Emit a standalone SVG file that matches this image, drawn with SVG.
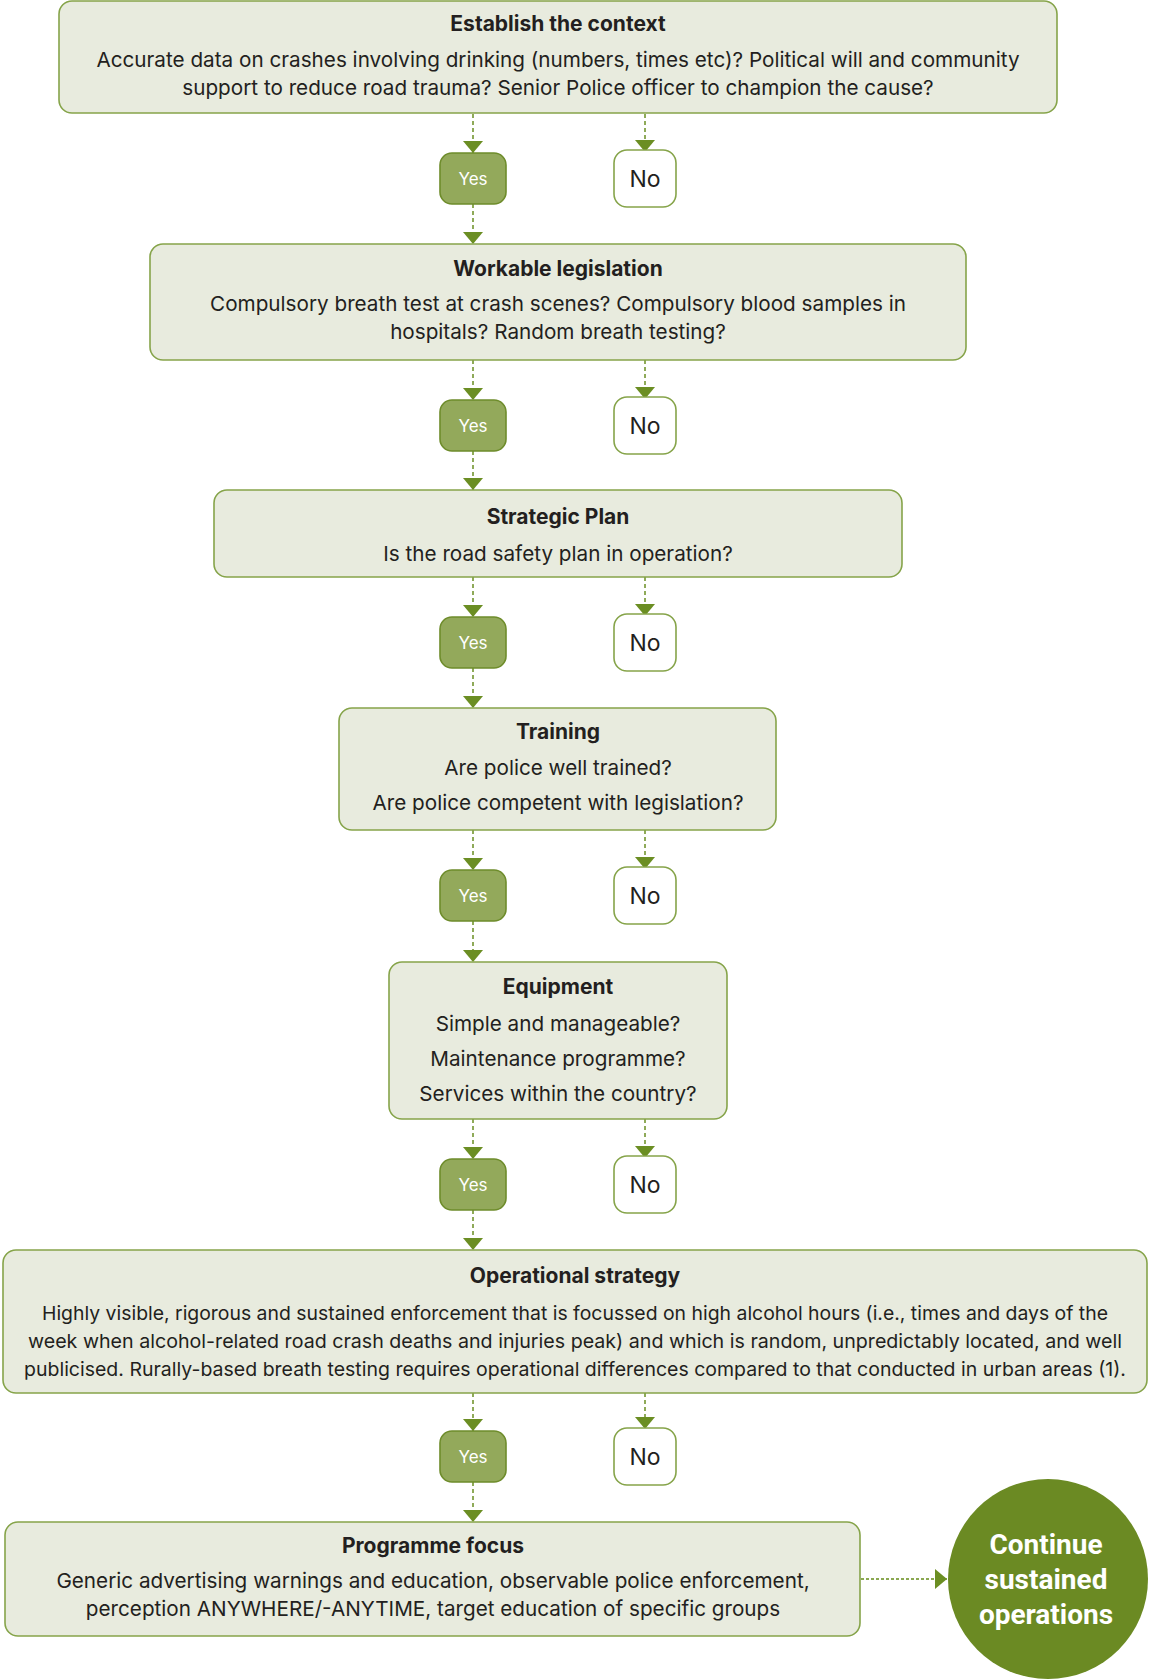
<svg xmlns="http://www.w3.org/2000/svg" width="1149" height="1679" viewBox="0 0 1149 1679">
<defs>
<style>
.box{fill:#E8EBDE;stroke:#86A44A;stroke-width:1.6}
.yes{fill:#93A95B;stroke:#6E8C2B;stroke-width:1.6}
.no{fill:#FFFFFF;stroke:#86A44A;stroke-width:1.6}
.t{font-family:Inter,Roboto,"Liberation Sans",sans-serif;font-size:20.7px;fill:#231F20;text-anchor:middle}
.b{font-weight:bold;font-size:21px}
.s{font-size:19.3px}
.yt{font-family:Inter,Roboto,"Liberation Sans",sans-serif;font-size:17px;fill:#FFFFFF;text-anchor:middle}
.nt{font-family:Inter,Roboto,"Liberation Sans",sans-serif;font-size:23px;fill:#231F20;text-anchor:middle}
.ct{font-family:Roboto,"Liberation Sans",sans-serif;font-size:28px;font-weight:bold;fill:#FFFFFF;text-anchor:middle}
.c{fill:none;stroke:#6B8E23;stroke-width:1.5;stroke-dasharray:4 3}
.d{fill:none;stroke:#8BA852;stroke-width:2;stroke-dasharray:3 2}
</style>
<marker id="ahw" viewBox="0 0 10 10" refX="10" refY="5" markerWidth="12" markerHeight="20" markerUnits="userSpaceOnUse" orient="auto" preserveAspectRatio="none">
<path d="M0,0 L10,5 L0,10 z" fill="#6B8E23"/>
</marker>
</defs>

<g id="connectors">
<path class="c" d="M473,114 V153" marker-end="url(#ahw)"/>
<path class="c" d="M645,114 V152" marker-end="url(#ahw)"/>
<path class="c" d="M473,204 V244" marker-end="url(#ahw)"/>
<path class="c" d="M473,360 V400" marker-end="url(#ahw)"/>
<path class="c" d="M645,360 V399" marker-end="url(#ahw)"/>
<path class="c" d="M473,451 V490" marker-end="url(#ahw)"/>
<path class="c" d="M473,577 V617" marker-end="url(#ahw)"/>
<path class="c" d="M645,577 V616" marker-end="url(#ahw)"/>
<path class="c" d="M473,668 V708" marker-end="url(#ahw)"/>
<path class="c" d="M473,830 V870" marker-end="url(#ahw)"/>
<path class="c" d="M645,830 V869" marker-end="url(#ahw)"/>
<path class="c" d="M473,921 V962" marker-end="url(#ahw)"/>
<path class="c" d="M473,1119 V1159" marker-end="url(#ahw)"/>
<path class="c" d="M645,1119 V1158" marker-end="url(#ahw)"/>
<path class="c" d="M473,1210 V1250" marker-end="url(#ahw)"/>
<path class="c" d="M645,1393 V1429" marker-end="url(#ahw)"/>
<path class="c" d="M473,1393 V1431" marker-end="url(#ahw)"/>
<path class="c" d="M473,1482 V1522" marker-end="url(#ahw)"/>
<path class="d" d="M861,1579 H947" marker-end="url(#ahw)"/>
</g>

<g id="establish-context">
<rect class="box" x="59" y="1" width="998" height="112" rx="13"/>
<text class="t b" x="558" y="31">Establish the context</text>
<text class="t" x="558" y="67">Accurate data on crashes involving drinking (numbers, times etc)? Political will and community</text>
<text class="t" x="558" y="95">support to reduce road trauma? Senior Police officer to champion the cause?</text>
</g>
<g id="yes1"><rect class="yes" x="440" y="153" width="66" height="51" rx="12"/><text class="yt" x="473" y="185">Yes</text></g>
<g id="no1"><rect class="no" x="614" y="150" width="62" height="57" rx="13"/><text class="nt" x="645" y="187">No</text></g>

<g id="workable-legislation">
<rect class="box" x="150" y="244" width="816" height="116" rx="13"/>
<text class="t b" x="558" y="276">Workable legislation</text>
<text class="t" x="558" y="311">Compulsory breath test at crash scenes? Compulsory blood samples in</text>
<text class="t" x="558" y="339">hospitals? Random breath testing?</text>
</g>
<g id="yes2"><rect class="yes" x="440" y="400" width="66" height="51" rx="12"/><text class="yt" x="473" y="432">Yes</text></g>
<g id="no2"><rect class="no" x="614" y="397" width="62" height="57" rx="13"/><text class="nt" x="645" y="434">No</text></g>

<g id="strategic-plan">
<rect class="box" x="214" y="490" width="688" height="87" rx="13"/>
<text class="t b" x="558" y="524">Strategic Plan</text>
<text class="t" x="558" y="561">Is the road safety plan in operation?</text>
</g>
<g id="yes3"><rect class="yes" x="440" y="617" width="66" height="51" rx="12"/><text class="yt" x="473" y="649">Yes</text></g>
<g id="no3"><rect class="no" x="614" y="614" width="62" height="57" rx="13"/><text class="nt" x="645" y="651">No</text></g>

<g id="training">
<rect class="box" x="339" y="708" width="437" height="122" rx="13"/>
<text class="t b" x="558" y="739">Training</text>
<text class="t" x="558" y="775">Are police well trained?</text>
<text class="t" x="558" y="810">Are police competent with legislation?</text>
</g>
<g id="yes4"><rect class="yes" x="440" y="870" width="66" height="51" rx="12"/><text class="yt" x="473" y="902">Yes</text></g>
<g id="no4"><rect class="no" x="614" y="867" width="62" height="57" rx="13"/><text class="nt" x="645" y="904">No</text></g>

<g id="equipment">
<rect class="box" x="389" y="962" width="338" height="157" rx="13"/>
<text class="t b" x="558" y="994">Equipment</text>
<text class="t" x="558" y="1031">Simple and manageable?</text>
<text class="t" x="558" y="1066">Maintenance programme?</text>
<text class="t" x="558" y="1101">Services within the country?</text>
</g>
<g id="yes5"><rect class="yes" x="440" y="1159" width="66" height="51" rx="12"/><text class="yt" x="473" y="1191">Yes</text></g>
<g id="no5"><rect class="no" x="614" y="1156" width="62" height="57" rx="13"/><text class="nt" x="645" y="1193">No</text></g>

<g id="operational-strategy">
<rect class="box" x="3" y="1250" width="1144" height="143" rx="13"/>
<text class="t b" x="575" y="1283">Operational strategy</text>
<text class="t s" x="575" y="1320" textLength="1066" lengthAdjust="spacingAndGlyphs">Highly visible, rigorous and sustained enforcement that is focussed on high alcohol hours (i.e., times and days of the</text>
<text class="t s" x="575" y="1348" textLength="1094" lengthAdjust="spacingAndGlyphs">week when alcohol-related road crash deaths and injuries peak) and which is random, unpredictably located, and well</text>
<text class="t s" x="575" y="1376" textLength="1102" lengthAdjust="spacingAndGlyphs">publicised. Rurally-based breath testing requires operational differences compared to that conducted in urban areas (1).</text>
</g>
<g id="yes6"><rect class="yes" x="440" y="1431" width="66" height="51" rx="12"/><text class="yt" x="473" y="1463">Yes</text></g>
<g id="no6"><rect class="no" x="614" y="1428" width="62" height="57" rx="13"/><text class="nt" x="645" y="1465">No</text></g>

<g id="programme-focus">
<rect class="box" x="5" y="1522" width="855" height="114" rx="13"/>
<text class="t b" x="433" y="1553">Programme focus</text>
<text class="t" x="433" y="1588">Generic advertising warnings and education, observable police enforcement,</text>
<text class="t" x="433" y="1616">perception ANYWHERE/-ANYTIME, target education of specific groups</text>
</g>

<g id="continue">
<circle cx="1048" cy="1579" r="100" fill="#6B8A23"/>
<text class="ct" x="1046" y="1554">Continue</text>
<text class="ct" x="1046" y="1589">sustained</text>
<text class="ct" x="1046" y="1624">operations</text>
</g>
</svg>
